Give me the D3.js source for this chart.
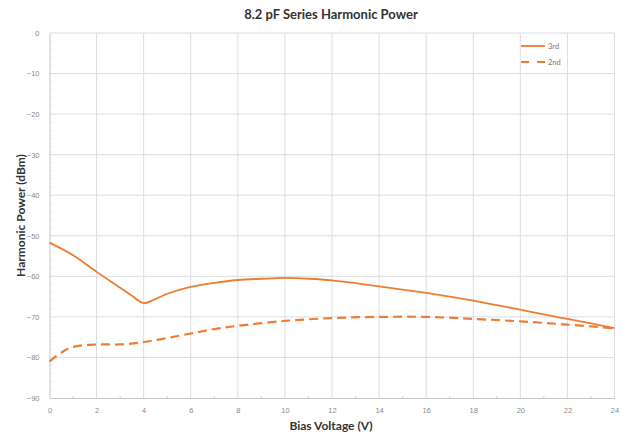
<!DOCTYPE html>
<html>
<head>
<meta charset="utf-8">
<script src="https://cdn.jsdelivr.net/npm/d3@7"></script>
<style>
  body { margin: 0; background: #fff; }
  svg { font-family: "Lato", "Open Sans", sans-serif; }
</style>
</head>
<body>
<svg id="grafico"></svg>
<script>
// Datos
const voltaje3rd = [0, 1, 2, 3, 3.5, 4, 4.5, 5, 6, 7, 8, 9, 10, 11, 12, 13, 14, 15, 16, 17, 18, 19, 20, 21, 22, 23, 24];
const potencia3rd = [-51.7, -54.8, -58.9, -62.8, -64.8, -66.6, -65.6, -64.3, -62.6, -61.6, -60.9, -60.6, -60.4, -60.6, -61.0, -61.7, -62.5, -63.3, -64.1, -65.0, -66.0, -67.1, -68.2, -69.4, -70.5, -71.6, -72.8];
const voltaje2nd = [0, 0.5, 1, 2, 3, 4, 5, 6, 7, 8, 10, 12, 14, 16, 18, 20, 22, 24];
const potencia2nd = [-81.0, -78.8, -77.4, -76.8, -76.8, -76.2, -75.2, -74.1, -73.0, -72.2, -71.0, -70.3, -70.0, -70.0, -70.5, -71.1, -71.9, -72.8];

const ticksX = d3.range(0, 25, 2);
const ticksY = d3.range(0, -91, -10);
const series = ["3rd", "2nd"];

const WIDTH = 623, HEIGHT = 438;
const margins = { top: 33, bottom: 40, left: 49.5, right: 8.5 };
const naranja = "#ED7D31";

const svg = d3.select("#grafico")
  .attr("width", WIDTH)
  .attr("height", HEIGHT);

const escalaX = d3.scaleLinear()
  .domain([0, 24])
  .range([margins.left, WIDTH - margins.right]);

const escalaY = d3.scaleLinear()
  .domain([-90, 0])
  .range([HEIGHT - margins.bottom, margins.top]);

// grilla
svg.append("g")
  .selectAll("line")
  .data(ticksX.slice(1))
  .join("line")
  .attr("x1", d => escalaX(d)).attr("x2", d => escalaX(d))
  .attr("y1", escalaY(0)).attr("y2", escalaY(-90))
  .attr("stroke", "#dcdde2").attr("stroke-width", 1);

svg.append("g")
  .selectAll("line")
  .data(ticksY.slice(0, -1))
  .join("line")
  .attr("x1", escalaX(0)).attr("x2", escalaX(24))
  .attr("y1", d => escalaY(d)).attr("y2", d => escalaY(d))
  .attr("stroke", "#dcdde2").attr("stroke-width", 1);

// ejes
const ejeX = svg.append("g")
  .attr("transform", `translate(0 ${escalaY(-90)})`)
  .call(d3.axisBottom(escalaX).tickValues(ticksX).tickSize(0).tickPadding(10));

svg.append("g")
  .attr("transform", `translate(0 ${escalaY(-90)})`)
  .selectAll("line")
  .data(d3.range(1, 24, 2))
  .join("line")
  .attr("x1", d => escalaX(d)).attr("x2", d => escalaX(d))
  .attr("y1", 0).attr("y2", -2)
  .attr("stroke", "#cfcfcf");

const ejeY = svg.append("g")
  .attr("transform", `translate(${escalaX(0)} 0)`)
  .call(d3.axisLeft(escalaY).tickValues(ticksY).tickSize(0).tickPadding(10));

svg.append("g")
  .attr("transform", `translate(${escalaX(0)} 0)`)
  .selectAll("line")
  .data(d3.range(-2, -90, -2).filter(d => d % 10 != 0))
  .join("line")
  .attr("x1", 0).attr("x2", 2)
  .attr("y1", d => escalaY(d)).attr("y2", d => escalaY(d))
  .attr("stroke", "#d4d4d4");

[ejeX, ejeY].forEach(eje => {
  eje.select(".domain").attr("stroke", "#c8c8c8");
  eje.selectAll("text").attr("fill", "#8a8a8a").style("font-size", "7.5px");
});

// curvas
const linea = d3.line()
  .x(d => escalaX(d[0]))
  .y(d => escalaY(d[1]))
  .curve(d3.curveCatmullRom.alpha(0.5));

svg.append("path")
  .datum(d3.zip(voltaje2nd, potencia2nd))
  .attr("d", linea)
  .attr("fill", "none")
  .attr("stroke", naranja)
  .attr("stroke-width", 2.2)
  .attr("stroke-dasharray", "9 5");

svg.append("path")
  .datum(d3.zip(voltaje3rd, potencia3rd))
  .attr("d", linea)
  .attr("fill", "none")
  .attr("stroke", naranja)
  .attr("stroke-width", 1.8);

// leyenda
const leyenda = svg.append("g").attr("transform", "translate(521 46)");
leyenda.selectAll("line")
  .data(series)
  .join("line")
  .attr("x1", 0).attr("x2", 24)
  .attr("y1", (_, i) => i * 16).attr("y2", (_, i) => i * 16)
  .attr("stroke", naranja)
  .attr("stroke-width", (_, i) => i == 0 ? 1.8 : 2.2)
  .attr("stroke-dasharray", (_, i) => i == 0 ? null : "8 8");
leyenda.selectAll("text")
  .data(series)
  .join("text")
  .attr("x", 27)
  .attr("y", (_, i) => i * 16)
  .attr("dominant-baseline", "central")
  .attr("fill", "#777")
  .style("font-size", "7.5px")
  .text(d => d);

// títulos
svg.append("text")
  .attr("x", 331).attr("y", 14)
  .attr("text-anchor", "middle")
  .attr("dominant-baseline", "central")
  .attr("fill", "#333")
  .style("font-size", "13px").style("font-weight", "bold")
  .text("8.2 pF Series Harmonic Power");

svg.append("text")
  .attr("x", 331).attr("y", 425)
  .attr("text-anchor", "middle")
  .attr("dominant-baseline", "central")
  .attr("fill", "#333")
  .style("font-size", "12px").style("font-weight", "bold")
  .text("Bias Voltage (V)");

svg.append("text")
  .attr("transform", `translate(20 ${(escalaY(0) + escalaY(-90)) / 2}) rotate(-90)`)
  .attr("text-anchor", "middle")
  .attr("dominant-baseline", "central")
  .attr("fill", "#333")
  .style("font-size", "12px").style("font-weight", "bold")
  .text("Harmonic Power (dBm)");
</script>
</body>
</html>
